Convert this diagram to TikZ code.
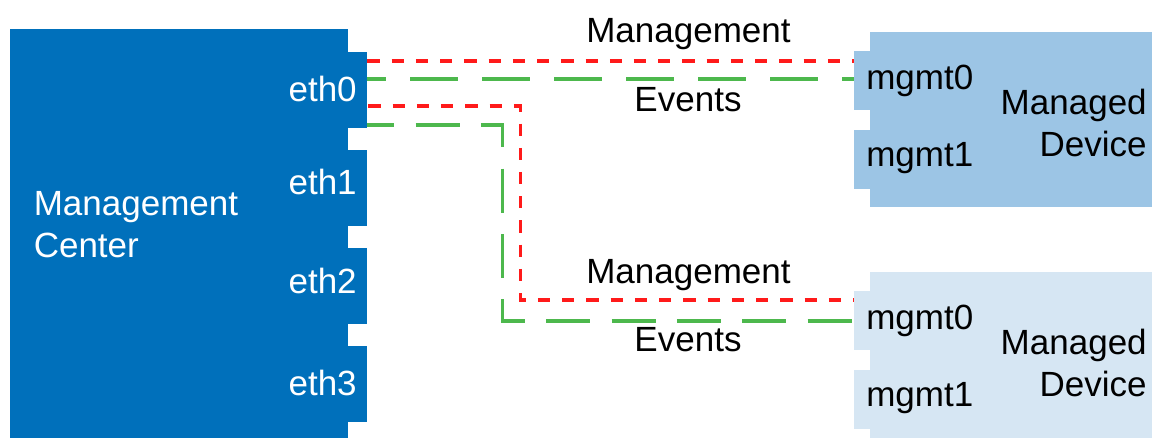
\documentclass[tikz,border=0pt]{standalone}
\usepackage{fontspec}
\setmainfont{Liberation Sans}
\usetikzlibrary{positioning}
\definecolor{mcblue}{HTML}{0070BB}
\definecolor{devblue}{HTML}{9CC5E5}
\definecolor{devpale}{HTML}{D6E6F3}
\definecolor{mgmtred}{HTML}{FF1A1A}
\definecolor{evgreen}{HTML}{4DB84D}
\tikzset{
  lbl/.style={font=\fontsize{24.9}{29.8}\selectfont, inner sep=0pt},
  mcbox/.style={fill=mcblue, inner sep=0pt, minimum width=8.45cm, minimum height=10.225cm},
  ethtab/.style={fill=mcblue, inner sep=0pt, minimum width=0.55cm, minimum height=1.875cm},
  mgmttab/.style={inner sep=0pt, minimum width=0.475cm, minimum height=1.475cm},
  mgmtline/.style={draw=mgmtred, line width=0.09cm, dash pattern=on 0.306cm off 0.3cm},
  evline/.style={draw=evgreen, line width=0.09cm, dash pattern=on 1.2cm off 0.6cm},
}

\begin{document}
\begin{tikzpicture}[x=0.025cm, y=-0.025cm]
				\useasboundingbox (0,0) rectangle (1152,438);
				% Management Center with its ports
				\node[mcbox] (mc) at (179,233.5) {};
				\foreach \i/\y/\b in {0/90/101.5,1/188/195,2/286/294,3/384/395.5} {
					\node[ethtab] (eth\i) at (356,\y) {};
					\node[lbl, text=white, anchor=base east] at (357,\b) {eth\i};
				}
				\node[lbl, text=white, align=left, anchor=west] (mctext) at (33.5,224.8) {Management\\Center};
				% Managed devices
				\node[fill=devblue, inner sep=0pt, minimum width=7.05cm, minimum height=4.375cm] (dev1) at (1011,119.5) {};
				\node[mgmttab, fill=devblue] (d1m0) at (863.5,80.5) {};
				\node[mgmttab, fill=devblue] (d1m1) at (863.5,159.3) {};
				\node[lbl, anchor=base west] at (866,90) {mgmt0};
				\node[lbl, anchor=base west] at (866,166.7) {mgmt1};
				\node[lbl, align=right, anchor=east] (dev1text) at (1147,123) {Managed\\Device};
				\node[fill=devpale, inner sep=0pt, minimum width=7.05cm, minimum height=4.15cm] (dev2) at (1011,355) {};
				\node[mgmttab, fill=devpale] (d2m0) at (863.5,320.5) {};
				\node[mgmttab, fill=devpale] (d2m1) at (863.5,399.3) {};
				\node[lbl, anchor=base west] at (866,330) {mgmt0};
				\node[lbl, anchor=base west] at (866,406.7) {mgmt1};
				\node[lbl, align=right, anchor=east] (dev2text) at (1147,363) {Managed\\Device};
				% Management and event links
				\draw[mgmtline] (eth0.east |- 0,61) -- (d1m0.west |- 0,61);
				\draw[evline, dash phase=0.725cm] (eth0.east |- 0,79) -- (d1m0.west |- 0,79);
				\draw[mgmtline, dash pattern=on 0.306cm off 0.3cm, dash phase=0.581cm] (eth0.east |- 0,106) -| (520.5,300) -- (d2m0.west |- 0,300);
				\draw[evline, dash pattern=on 1.1cm off 0.533cm, dash phase=0.4275cm] (eth0.east |- 0,125) -| (502.5,321) -- (d2m0.west |- 0,321);
				\node[lbl, anchor=base] at (688.5,43) {Management};
				\node[lbl, anchor=base] at (688,111.7) {Events};
				\node[lbl, anchor=base] at (688.5,283.3) {Management};
				\node[lbl, anchor=base] at (688,351.7) {Events};
			\end{tikzpicture}
\end{document}
